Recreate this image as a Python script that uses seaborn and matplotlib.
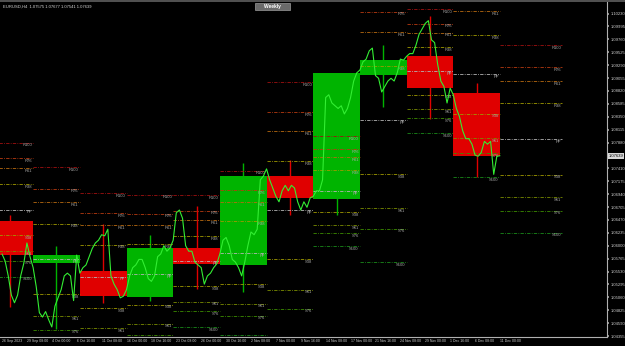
import numpy as np
import pandas as pd
import matplotlib
matplotlib.use("Agg")
import matplotlib.pyplot as plt
import seaborn as sns

# ---------------- data ----------------
# H4 closes sampled every 2 bars (8h), from 26 Sep 16:00 to 11 Dec 00:00
h4_close = [
    1.0585, 1.0572, 1.0545, 1.0510, 1.0496, 1.0510, 1.0545, 1.0568, 1.0605, 1.0580,
    1.0560, 1.0525, 1.0478, 1.0470, 1.0480, 1.0465, 1.0452, 1.0490, 1.0505, 1.0520, 1.0545, 1.0550, 1.0545, 1.0500, 1.0583,
    1.0550, 1.0560, 1.0565, 1.0580, 1.0595, 1.0605, 1.0610, 1.0620, 1.0618, 1.0630, 1.0545, 1.0530, 1.0520, 1.0505, 1.0508,
    1.0520, 1.0545, 1.0560, 1.0565, 1.0575, 1.0575, 1.0560, 1.0540, 1.0535, 1.0545, 1.0580, 1.0585, 1.0600, 1.0590, 1.0596,
    1.0610, 1.0660, 1.0665, 1.0650, 1.0600, 1.0590, 1.0590, 1.0570, 1.0565, 1.0560, 1.0530, 1.0545, 1.0550, 1.0560, 1.0567,
    1.0585, 1.0610, 1.0615, 1.0600, 1.0575, 1.0570, 1.0560, 1.0545, 1.0570, 1.0600, 1.0625, 1.0620, 1.0630, 1.0720, 1.0727,
    1.0740, 1.0720, 1.0705, 1.0690, 1.0680, 1.0700, 1.0710, 1.0700, 1.0710, 1.0705, 1.0680, 1.0665, 1.0680, 1.0670, 1.0687,
    1.0690, 1.0700, 1.0700, 1.0720, 1.0870, 1.0875, 1.0860, 1.0855, 1.0850, 1.0855, 1.0840, 1.0850, 1.0870, 1.0900, 1.0915,
    1.0920, 1.0935, 1.0940, 1.0955, 1.0960, 1.0910, 1.0905, 1.0880, 1.0890, 1.0900, 1.0905, 1.0900, 1.0915, 1.0940, 1.0938,
    1.0945, 1.0950, 1.0950, 1.0965, 1.0985, 1.0995, 1.1005, 1.1010, 1.0975, 1.0970, 1.0930, 1.0900, 1.0890, 1.0860, 1.0887,
    1.0875, 1.0850, 1.0835, 1.0810, 1.0795, 1.0795, 1.0785, 1.0765, 1.0763, 1.0770, 1.0790, 1.0785, 1.0790, 1.0730, 1.0763,
    1.07639,
]

# weekly OHLC: 18 Sep ... 4 Dec
weeks = ["18 Sep", "25 Sep", "2 Oct", "9 Oct", "16 Oct", "23 Oct", "30 Oct",
         "6 Nov", "13 Nov", "20 Nov", "27 Nov", "4 Dec"]
w_open = [1.0660, 1.0645, 1.0569, 1.0554, 1.0507, 1.0596, 1.0565, 1.0727, 1.0685, 1.0911, 1.0946, 1.0878]
w_high = [1.0737, 1.0656, 1.0600, 1.0640, 1.0620, 1.0672, 1.0750, 1.0756, 1.0915, 1.0965, 1.1018, 1.0896]
w_low = [1.0615, 1.0488, 1.0448, 1.0495, 1.0500, 1.0522, 1.0516, 1.0656, 1.0656, 1.0852, 1.0831, 1.0725]
w_close = [1.0645, 1.0583, 1.0583, 1.0508, 1.0596, 1.0567, 1.0727, 1.0687, 1.0915, 1.0938, 1.0887, 1.0763]

level_names = ["R100", "R76", "R61", "R38", "PP", "S38", "S61", "S76", "S100"]
level_ratios = [1.0, 0.764, 0.618, 0.382, 0.0, -0.382, -0.618, -0.764, -1.0]
level_colors = ["#a01010", "#b83a10", "#b86a10", "#a09a00", "#b4b4b4",
                "#a09a00", "#7a8c00", "#3c8c00", "#1a8a1a"]

x_labels = ["26 Sep 2023", "29 Sep 08:00", "4 Oct 00:00", "6 Oct 16:00", "11 Oct 08:00",
            "16 Oct 00:00", "18 Oct 16:00", "23 Oct 08:00", "26 Oct 00:00", "30 Oct 16:00",
            "2 Nov 08:00", "7 Nov 00:00", "9 Nov 16:00", "14 Nov 08:00", "17 Nov 00:00",
            "21 Nov 16:00", "24 Nov 08:00", "29 Nov 00:00", "1 Dec 16:00", "6 Dec 08:00",
            "11 Dec 00:00"]
y_ticks = [1.04355, 1.04590, 1.04825, 1.05060, 1.05295, 1.05530, 1.05765, 1.06000,
           1.06235, 1.06470, 1.06705, 1.06940, 1.07175, 1.07410, 1.07645, 1.07880,
           1.08115, 1.08350, 1.08585, 1.08820, 1.09055, 1.09290, 1.09525, 1.09760,
           1.09995, 1.10230, 1.10465]
last_price = 1.07639
header = "EURUSD,H4  1.07575 1.07677 1.07541 1.07639"

# ---------------- figure ----------------
sns.set_theme(style="dark")
plt.rcParams["font.family"] = ["Liberation Sans", "DejaVu Sans"]

W, H = 625, 346
fig = plt.figure(figsize=(W / 100, H / 100), dpi=100, facecolor="black")
ax = fig.add_axes([0, 9 / H, 607 / W, 337 / H], facecolor="black")
y_lo, y_hi = 1.04355 - 1 / 5489, 1.04355 + 336 / 5489

bars_per_week = 30
week_start = [-40 + bars_per_week * i for i in range(len(weeks) + 1)]

# weekly boxes (drawn for weeks after 18 Sep)
for i in range(1, len(weeks)):
    s = week_start[i]
    col = "#00b400" if w_close[i] >= w_open[i] else "#e00000"
    lo, hi = min(w_open[i], w_close[i]), max(w_open[i], w_close[i])
    ax.bar(s, hi - lo, width=bars_per_week, bottom=lo, align="edge",
           color=col, edgecolor="none", zorder=1)
    mid = s + bars_per_week / 2
    ax.vlines(mid, w_low[i], w_high[i], color=col, lw=1.0, zorder=1)

# pivot levels
for i in range(len(weeks)):
    s = week_start[i + 1]
    e = s + (40 if i == len(weeks) - 1 else bars_per_week)
    pp = (w_high[i] + w_low[i] + w_close[i]) / 3
    rng = w_high[i] - w_low[i]
    for name, r, c in zip(level_names, level_ratios, level_colors):
        lv = pp + r * rng
        if lv < y_lo or lv > y_hi:
            continue
        ax.hlines(lv, s, e, colors=c, linestyles=(0, (4, 1.5, 1, 1.5)), lw=0.6, zorder=2)
        if lv > y_lo + 0.0012:
            ax.text(e - 0.8, lv - 0.00012, name, ha="right", va="top", fontsize=3,
                    color="#a8a8a8", zorder=3, clip_on=True)

# price line
price_df = pd.DataFrame({"bar": np.arange(0, 2 * len(h4_close), 2), "close": h4_close})
sns.lineplot(data=price_df, x="bar", y="close", ax=ax, color="#33ee33", lw=0.8, zorder=4)

ax.set_xlim(-1.3, 388.8)
ax.set_ylim(y_lo, y_hi)

ax.set_xticks(np.arange(0, 16 * len(x_labels), 16))
ax.set_xticklabels(x_labels, fontsize=2.5, color="#d0d0d0", ha="left")
ax.tick_params(axis="x", length=1.0, pad=0.4, color="#a0a0a0")
ax.yaxis.tick_right()
ax.set_yticks(y_ticks)
ax.set_yticklabels(["" if abs(v - last_price) < 0.0005 else f"{v:.5f}" for v in y_ticks],
                   fontsize=3, color="#d0d0d0")
ax.tick_params(axis="y", length=1.5, pad=1, color="#a0a0a0")
ax.set_xlabel("")
ax.set_ylabel("")
ax.grid(False)
for side in ["left", "top"]:
    ax.spines[side].set_visible(False)
for side in ["right", "bottom"]:
    ax.spines[side].set_visible(True)
    ax.spines[side].set_color("#b0b0b0")
    ax.spines[side].set_linewidth(0.8)

# current price tag
ax.text(1.003, last_price, f"{last_price:.5f}", transform=ax.get_yaxis_transform(),
        ha="left", va="center", fontsize=3, color="black", zorder=6,
        bbox=dict(boxstyle="square,pad=0.2", fc="#d8d8d8", ec="none"))

# header and top frame
fig.patches.append(plt.Rectangle((0, 1 - 2 / H), 1, 2 / H, transform=fig.transFigure,
                                 fc="#505050", ec="none", zorder=10))
fig.text(3 / W, 1 - 7 / H, header, fontsize=3, color="#d8d8d8", ha="left", va="center")
fig.patches.append(plt.Rectangle((255 / W, 1 - 10 / H), 35 / W, 7 / H, transform=fig.transFigure,
                                 fc="#6a6a6a", ec="#9a9a9a", lw=0.5, zorder=10))
fig.text(272.5 / W, 1 - 6.5 / H, "Weekly", fontsize=3.5, color="white", ha="center",
         va="center", weight="bold", zorder=11)

fig.savefig("out.png", dpi=100, facecolor="black")
